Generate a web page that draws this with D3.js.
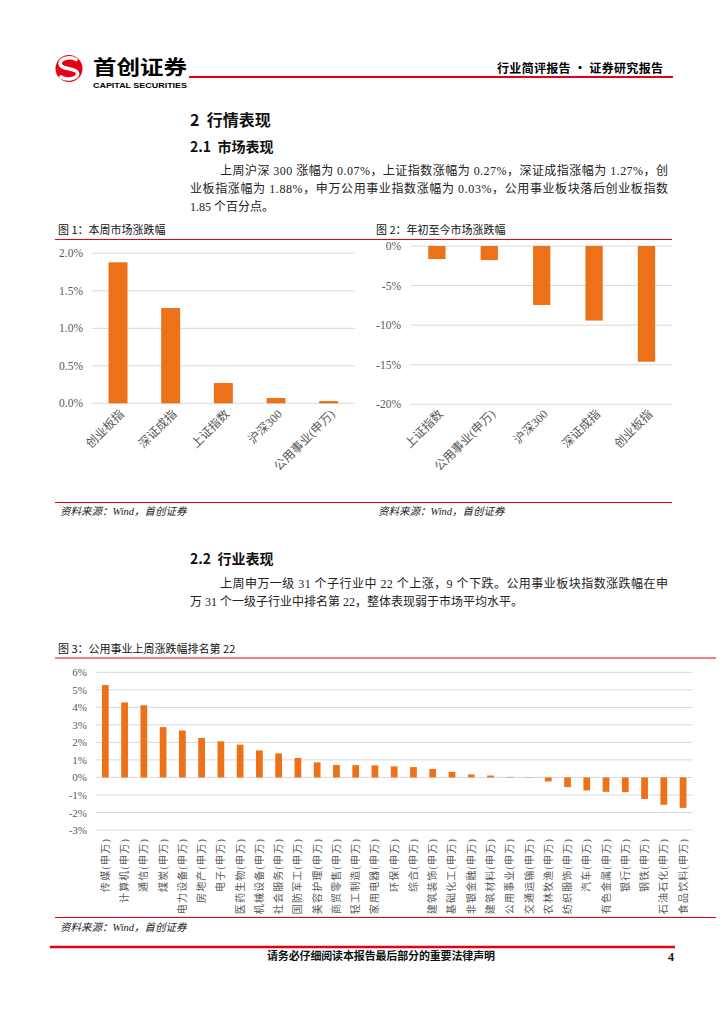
<!DOCTYPE html>
<html>
<head>
<meta charset="utf-8">
<script src="https://cdn.jsdelivr.net/npm/d3@7"></script>
<style>
  body { margin: 0; background: #fff; }
</style>
</head>
<body>
<div id="page"></div>
<script>
// 图1：本周市场涨跌幅 (%)
const weekNames = ["创业板指", "深证成指", "上证指数", "沪深300", "公用事业(申万)"];
const weekValues = [1.88, 1.27, 0.27, 0.07, 0.03];
const weekTicks = [0, 0.5, 1.0, 1.5, 2.0];

// 图2：年初至今市场涨跌幅 (%)
const ytdNames = ["上证指数", "公用事业(申万)", "沪深300", "深证成指", "创业板指"];
const ytdValues = [-1.65, -1.78, -7.45, -9.42, -14.62];
const ytdTicks = [0, -5, -10, -15, -20];

// 图3：申万一级行业上周涨跌幅 (%)
const industryNames = ["传媒", "计算机", "通信", "煤炭", "电力设备", "房地产", "电子", "医药生物",
  "机械设备", "社会服务", "国防军工", "美容护理", "商贸零售", "轻工制造", "家用电器", "环保", "综合",
  "建筑装饰", "基础化工", "非银金融", "建筑材料", "公用事业", "交通运输", "农林牧渔", "纺织服饰",
  "汽车", "有色金属", "银行", "钢铁", "石油石化", "食品饮料"];
const industryValues = [5.27, 4.28, 4.12, 2.87, 2.68, 2.25, 2.06, 1.87,
  1.54, 1.37, 1.11, 0.86, 0.71, 0.70, 0.69, 0.63, 0.59,
  0.48, 0.32, 0.17, 0.11, 0.03, -0.02, -0.23, -0.55,
  -0.74, -0.82, -0.84, -1.23, -1.56, -1.74];
const industryTicks = [6, 5, 4, 3, 2, 1, 0, -1, -2, -3];

const width = 724, height = 1024;
const serif = '"Liberation Serif", "Noto Sans CJK SC", serif';
const sans = '"Noto Sans CJK SC", sans-serif';
const red = "#e60012", orange = "#ed7118", gridColor = "#d9d9d9", grey = "#595959";

const svg = d3.select("#page").append("svg")
  .attr("width", width)
  .attr("height", height)
  .attr("viewBox", [0, 0, width, height]);

// ---- header ----
const logo = svg.append("g");
logo.append("circle").attr("cx", 69).attr("cy", 68.5).attr("r", 13.5).attr("fill", red);
logo.append("path")
  .attr("d", "M76,59.5 C70,56 58,58.5 60.5,65 C62.5,70 76,67.5 77.5,73 C79,78.5 67,81 61,77")
  .attr("fill", "none").attr("stroke", "#fff").attr("stroke-width", 3.6).attr("stroke-linecap", "round");
svg.append("text").attr("x", 93).attr("y", 75)
  .attr("font-family", sans).attr("font-weight", 700).attr("font-size", 20)
  .attr("textLength", 94).attr("lengthAdjust", "spacingAndGlyphs")
  .text("首创证券");
svg.append("text").attr("x", 93).attr("y", 87.5)
  .attr("font-family", '"Liberation Sans", Arial, sans-serif').attr("font-weight", 700).attr("font-size", 7)
  .attr("textLength", 94).attr("lengthAdjust", "spacingAndGlyphs")
  .text("CAPITAL SECURITIES");
svg.append("line").attr("x1", 189).attr("x2", 673).attr("y1", 77).attr("y2", 77)
  .attr("stroke", red).attr("stroke-width", 2.2);
svg.append("text").attr("x", 663).attr("y", 72.5).attr("text-anchor", "end")
  .attr("font-family", sans).attr("font-weight", 700).attr("font-size", 12)
  .attr("textLength", 166).attr("lengthAdjust", "spacing")
  .text("行业简评报告 · 证券研究报告");

// ---- body text ----
function textLine(x, y, str, opts = {}) {
  const t = svg.append("text").attr("x", x).attr("y", y)
    .attr("font-family", opts.family || serif)
    .attr("font-size", opts.size || 12)
    .attr("font-weight", opts.weight || 400)
    .attr("fill", opts.fill || "#222")
    .style("white-space", "pre")
    .text(str);
  if (opts.len) t.attr("textLength", opts.len).attr("lengthAdjust", "spacing");
  if (opts.style) t.attr("font-style", opts.style);
  if (opts.anchor) t.attr("text-anchor", opts.anchor);
  return t;
}

textLine(190, 125.5, "2\u00a0\u00a0行情表现", { size: 16, weight: 700, family: sans, fill: "#111" });
textLine(190, 152, "2.1\u00a0\u00a0市场表现", { size: 14, weight: 700, family: sans, fill: "#111" });
textLine(220, 175, "上周沪深 300 涨幅为 0.07%，上证指数涨幅为 0.27%，深证成指涨幅为 1.27%，创", { len: 448 });
textLine(190, 193, "业板指涨幅为 1.88%，申万公用事业指数涨幅为 0.03%，公用事业板块落后创业板指数", { len: 478 });
textLine(190, 211, "1.85 个百分点。");

textLine(190, 564, "2.2\u00a0\u00a0行业表现", { size: 14, weight: 700, family: sans, fill: "#111" });
textLine(220, 588, "上周申万一级 31 个子行业中 22 个上涨，9 个下跌。公用事业板块指数涨跌幅在申", { len: 448 });
textLine(190, 606, "万 31 个一级子行业中排名第 22，整体表现弱于市场平均水平。");

// ---- figure frames ----
function rule(x1, x2, y) {
  svg.append("line").attr("x1", x1).attr("x2", x2).attr("y1", y).attr("y2", y)
    .attr("stroke", red).attr("stroke-width", 1);
}
rule(55, 672, 239.5);
rule(55, 672, 502.5);
rule(55, 716, 658);
rule(55, 716, 917.5);

const titleOpts = { size: 11, family: sans, fill: "#111" };
textLine(58, 234, "图\u00a01：本周市场涨跌幅", titleOpts);
textLine(376, 234, "图\u00a02：年初至今市场涨跌幅", titleOpts);
textLine(58, 652.5, "图\u00a03：公用事业上周涨跌幅排名第 22", titleOpts);

const srcOpts = { size: 10.5, style: "italic", fill: "#222" };
textLine(60, 515, "资料来源：Wind，首创证券", srcOpts);
textLine(378, 515, "资料来源：Wind，首创证券", srcOpts);
textLine(60, 931, "资料来源：Wind，首创证券", srcOpts);

// ---- bar chart helper ----
function barChart(o) {
  const g = svg.append("g");
  const y = d3.scaleLinear().domain(o.domain).range([o.yBottom, o.yTop]);
  const x = d3.scaleBand().domain(o.names).range([o.x0, o.x1])
    .paddingInner(o.pad).paddingOuter(o.pad / 2);

  // gridlines
  g.append("g").selectAll("line")
    .data(o.ticks)
    .join("line")
    .attr("x1", o.x0).attr("x2", o.x1)
    .attr("y1", d => y(d)).attr("y2", d => y(d))
    .attr("stroke", gridColor).attr("stroke-width", 1);

  // y axis labels
  g.append("g")
    .attr("transform", `translate(${o.labelX},0)`)
    .call(d3.axisLeft(y).tickValues(o.ticks).tickSize(0).tickPadding(0).tickFormat(o.fmt))
    .call(a => a.select(".domain").remove())
    .call(a => a.selectAll("text")
      .attr("font-family", serif).attr("font-size", o.tickSize || 11.5).attr("fill", grey));

  // bars
  g.append("g").selectAll("rect")
    .data(o.values)
    .join("rect")
    .attr("x", (d, i) => x(o.names[i]))
    .attr("width", x.bandwidth())
    .attr("y", d => y(Math.max(0, d)))
    .attr("height", d => Math.abs(y(d) - y(0)))
    .attr("fill", orange);

  // category labels
  g.append("g").selectAll("text")
    .data(o.names)
    .join("text")
    .attr("transform", d => {
      const cx = x(d) + x.bandwidth() / 2;
      return o.rotate === -90
        ? `translate(${cx},${o.labelY}) rotate(-90)`
        : `translate(${cx + 4},${o.labelY}) rotate(-45)`;
    })
    .attr("text-anchor", "end")
    .attr("dominant-baseline", "central")
    .attr("font-family", serif)
    .attr("font-size", o.catSize)
    .attr("letter-spacing", o.letter || 0)
    .attr("fill", grey)
    .text(d => d + (o.suffix || ""));
}

barChart({
  names: weekNames, values: weekValues, ticks: weekTicks,
  domain: [0, 2], yBottom: 403.3, yTop: 253.3,
  x0: 91.7, x1: 355, pad: 0.64, labelX: 83,
  fmt: d => d3.format(".1f")(d) + "%",
  labelY: 412, catSize: 12, rotate: -45
});

barChart({
  names: ytdNames, values: ytdValues, ticks: ytdTicks,
  domain: [-20, 0], yBottom: 404.3, yTop: 246,
  x0: 410.7, x1: 672.7, pad: 0.67, labelX: 401,
  fmt: d => d + "%",
  labelY: 412, catSize: 12, rotate: -45
});

barChart({
  names: industryNames, values: industryValues, ticks: industryTicks,
  domain: [-3, 6], yBottom: 830, yTop: 672.3,
  x0: 95.7, x1: 692.7, pad: 0.65, labelX: 87,
  fmt: d => d + "%", tickSize: 11,
  labelY: 838, catSize: 10, letter: 1.2, rotate: -90, suffix: "(申万)"
});

// ---- footer ----
svg.append("line").attr("x1", 50).attr("x2", 675).attr("y1", 947).attr("y2", 947)
  .attr("stroke", red).attr("stroke-width", 2.5);
textLine(267, 960, "请务必仔细阅读本报告最后部分的重要法律声明",
  { size: 11, weight: 700, family: sans, fill: "#111", len: 228 });
textLine(674, 961, "4", { size: 12, weight: 700, anchor: "end", fill: "#111" });
</script>
</body>
</html>
